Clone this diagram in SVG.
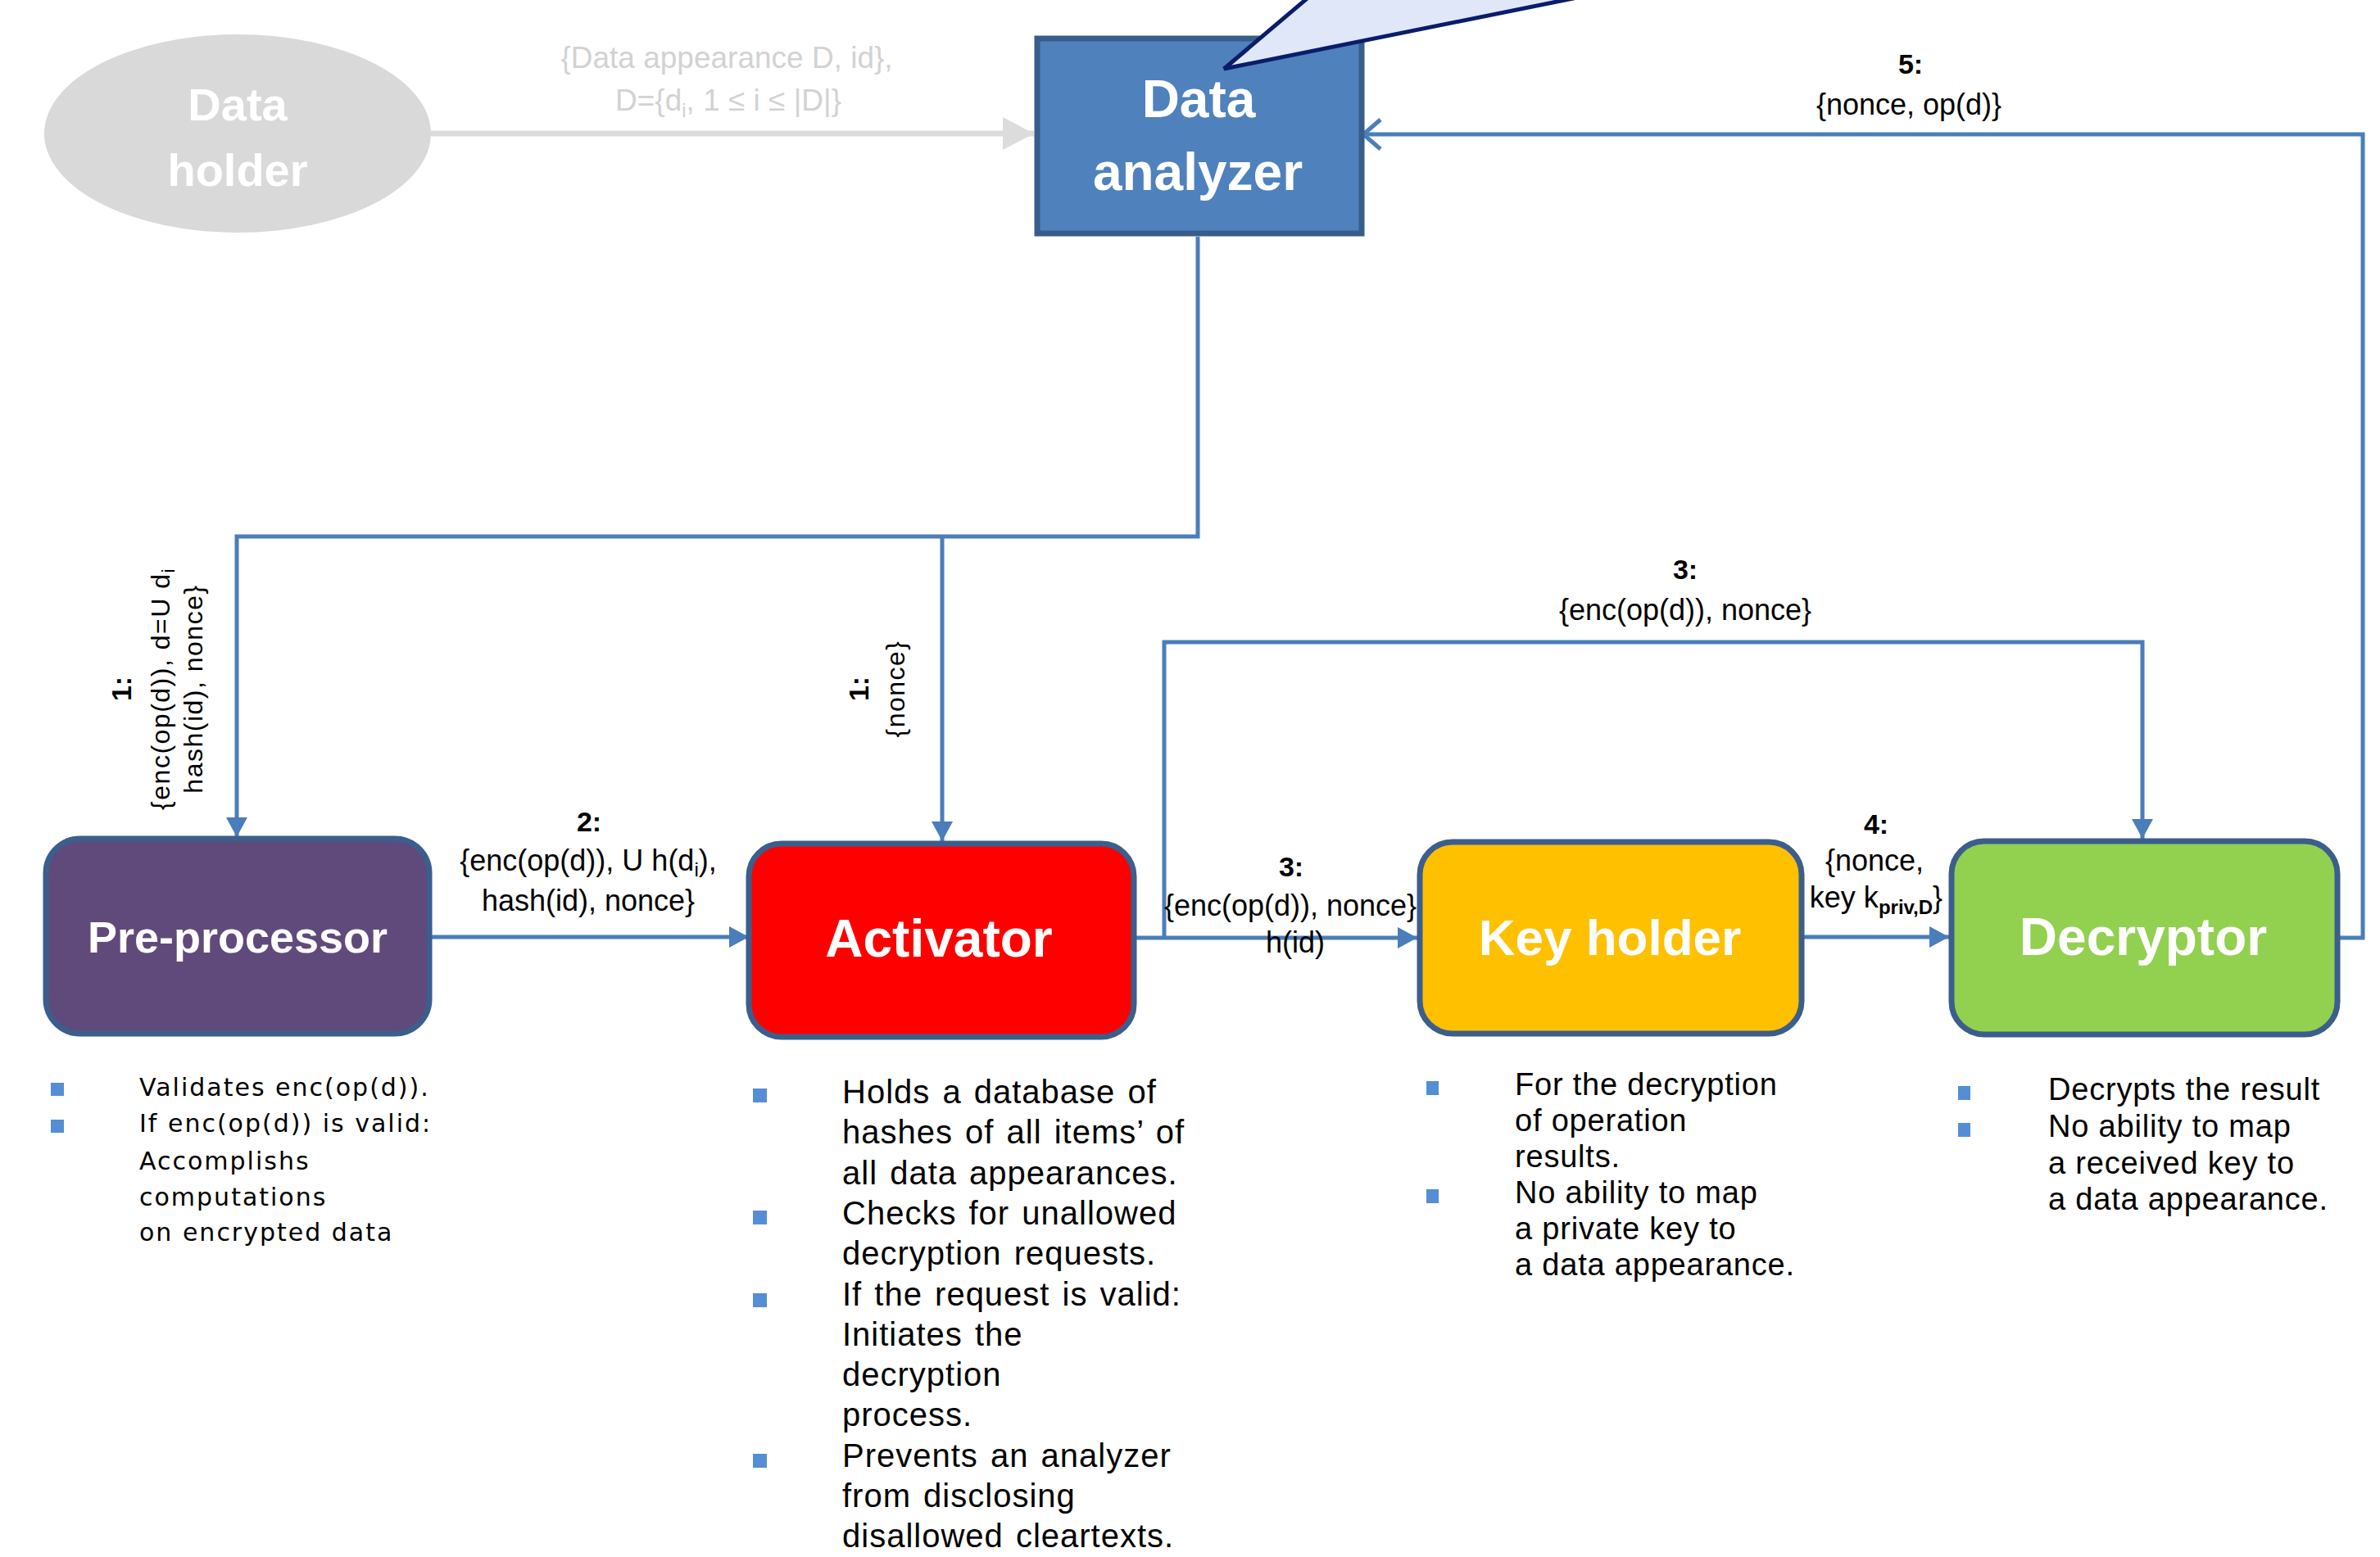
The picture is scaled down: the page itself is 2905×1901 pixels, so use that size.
<svg xmlns="http://www.w3.org/2000/svg" width="2905" height="1901" viewBox="0 0 2905 1901">
<style>
  .nl { font-family: "Liberation Sans", Arial, sans-serif; font-weight: bold; fill: #ffffff; text-anchor: middle; }
  .lbl { font-family: "Liberation Sans", Arial, sans-serif; font-size: 36px; fill: #000000; text-anchor: middle; }
  .lblb { font-family: "Liberation Sans", Arial, sans-serif; font-size: 34px; font-weight: bold; fill: #000000; text-anchor: middle; }
  .rot { font-family: "Liberation Sans", Arial, sans-serif; font-size: 32px; letter-spacing: 1.5px; fill: #000000; text-anchor: middle; }
  .gray { font-family: "Liberation Sans", Arial, sans-serif; font-size: 37px; fill: #d2d2d2; text-anchor: middle; }
  .conn { fill: none; stroke: #4a7ebb; stroke-width: 5; }
  .box { stroke: #3b5e8c; stroke-width: 7; }
  .bullet { fill: #558ed5; }
  .list { font-family: "Liberation Sans", Arial, sans-serif; font-size: 38px; letter-spacing: 0.8px; fill: #000000; }
  .alist { font-family: "Liberation Sans", Arial, sans-serif; font-size: 40px; letter-spacing: 1px; word-spacing: 3px; fill: #000000; }
  .plist { font-family: "DejaVu Sans", sans-serif; font-size: 30px; letter-spacing: 2px; fill: #000000; }
</style>
<defs>
  <marker id="ah" markerUnits="userSpaceOnUse" markerWidth="24" markerHeight="26" refX="24" refY="13" orient="auto">
    <path d="M0,0 L24,13 L0,26 z" fill="#4a7ebb"/>
  </marker>
  <marker id="ahopen" markerUnits="userSpaceOnUse" markerWidth="26" markerHeight="42" refX="23" refY="21" orient="auto">
    <path d="M2,3 L23,21 L2,39" fill="none" stroke="#4a7ebb" stroke-width="5"/>
  </marker>
  <marker id="ahgray" markerUnits="userSpaceOnUse" markerWidth="40" markerHeight="42" refX="38" refY="21" orient="auto">
    <path d="M0,1 L38,21 L0,41 z" fill="#dcdcdc"/>
  </marker>
</defs>
<rect x="0" y="0" width="2905" height="1901" fill="#ffffff"/>

<g id="connectors">
  <path d="M526,163 L1262,163" fill="none" stroke="#dcdcdc" stroke-width="7" marker-end="url(#ahgray)"/>
  <path class="conn" d="M1462,289 L1462,655 L289,655 L289,1022" marker-end="url(#ah)"/>
  <path class="conn" d="M1150,655 L1150,1027" marker-end="url(#ah)"/>
  <path class="conn" d="M524,1144 L914,1144" marker-end="url(#ah)"/>
  <path class="conn" d="M1385,1145 L1730,1145" marker-end="url(#ah)"/>
  <path class="conn" d="M1421,1145 L1421,784 L2615,784 L2615,1024" marker-end="url(#ah)"/>
  <path class="conn" d="M2199,1144 L2379,1144" marker-end="url(#ah)"/>
  <path class="conn" d="M2853,1145 L2884,1145 L2884,164 L1664,164" marker-end="url(#ahopen)"/>
</g>

<g id="connector-labels">
  <text class="gray" x="887" y="83">{Data appearance D, id},</text>
  <text class="gray" x="889" y="135">D={d<tspan dy="8" font-size="24">i</tspan><tspan dy="-8">, 1 ≤ i ≤ |D|}</tspan></text>

  <text class="lblb" x="2332" y="90">5:</text>
  <text class="lbl" x="2330" y="140">{nonce, op(d)}</text>

  <g transform="translate(0,841) rotate(-90)">
    <text class="lblb" x="0" y="160">1:</text>
    <text class="rot" x="0" y="207">{enc(op(d)), d=U d<tspan dy="6" font-size="22">i</tspan></text>
    <text class="rot" x="0" y="247">hash(id), nonce}</text>
  </g>
  <g transform="translate(0,841) rotate(-90)">
    <text class="lblb" x="0" y="1060">1:</text>
    <text class="rot" x="0" y="1104" letter-spacing="2">{nonce}</text>
  </g>

  <text class="lblb" x="719" y="1015">2:</text>
  <text class="lbl" x="718" y="1063">{enc(op(d)), U h(d<tspan dy="7" font-size="24">i</tspan><tspan dy="-7">),</tspan></text>
  <text class="lbl" x="718" y="1112">hash(id), nonce}</text>

  <text class="lblb" x="2057" y="707">3:</text>
  <text class="lbl" x="2057" y="757">{enc(op(d)), nonce}</text>

  <text class="lblb" x="1576" y="1070">3:</text>
  <text class="lbl" x="1575" y="1118" font-size="34">{enc(op(d)), nonce}</text>
  <text class="lbl" x="1581" y="1163" font-size="36">h(id)</text>

  <text class="lblb" x="2290" y="1018">4:</text>
  <text class="lbl" x="2288" y="1063">{nonce,</text>
  <text class="lbl" x="2290" y="1108">key k<tspan dy="8" font-size="24" font-weight="bold">priv,D</tspan><tspan dy="-8">}</tspan></text>
</g>

<g id="data-holder">
  <ellipse cx="290" cy="163" rx="236" ry="121" fill="#d9d9d9"/>
  <text class="nl" x="290" y="147" font-size="56">Data</text>
  <text class="nl" x="290" y="227" font-size="56">holder</text>
</g>

<g id="data-analyzer">
  <rect x="1266" y="47" width="396" height="238" fill="#4f81bd" stroke="#385d8a" stroke-width="7"/>
  <text class="nl" x="1463" y="143" font-size="64">Data</text>
  <text class="nl" x="1462" y="232" font-size="64">analyzer</text>
</g>

<g id="callout">
  <polygon points="1605,-10 1494,84 1960,-10" fill="#e0e7f8" stroke="#0b1c6b" stroke-width="5" stroke-linejoin="miter"/>
</g>

<g id="pre-processor">
  <rect class="box" x="56" y="1024" width="468" height="238" rx="42" fill="#604a7b"/>
  <text class="nl" x="290" y="1163" font-size="54">Pre-processor</text>
</g>

<g id="activator">
  <rect class="box" x="914" y="1030" width="470" height="236" rx="40" fill="#ff0000"/>
  <text class="nl" x="1146" y="1168" font-size="64">Activator</text>
</g>

<g id="key-holder">
  <rect class="box" x="1733" y="1028" width="466" height="234" rx="40" fill="#ffc000"/>
  <text class="nl" x="1965" y="1166" font-size="62">Key holder</text>
</g>

<g id="decryptor">
  <rect class="box" x="2382" y="1027" width="471" height="236" rx="40" fill="#92d050"/>
  <text class="nl" x="2616" y="1166" font-size="64">Decryptor</text>
</g>

<g id="pre-processor-notes">
  <rect class="bullet" x="62" y="1322" width="16" height="16"/>
  <rect class="bullet" x="62" y="1367" width="16" height="16"/>
  <text class="plist" x="170" y="1338">Validates enc(op(d)).</text>
  <text class="plist" x="170" y="1382">If enc(op(d)) is valid:</text>
  <text class="plist" x="170" y="1428">Accomplishs</text>
  <text class="plist" x="170" y="1472">computations</text>
  <text class="plist" x="170" y="1515">on encrypted data</text>
</g>

<g id="activator-notes">
  <rect class="bullet" x="919" y="1329" width="17" height="17"/>
  <rect class="bullet" x="919" y="1478" width="17" height="17"/>
  <rect class="bullet" x="919" y="1579" width="17" height="17"/>
  <rect class="bullet" x="919" y="1775" width="17" height="17"/>
  <text class="alist" x="1028" y="1347">Holds a database of</text>
  <text class="alist" x="1028" y="1396">hashes of all items’ of</text>
  <text class="alist" x="1028" y="1446">all data appearances.</text>
  <text class="alist" x="1028" y="1495">Checks for unallowed</text>
  <text class="alist" x="1028" y="1544">decryption requests.</text>
  <text class="alist" x="1028" y="1594">If the request is valid:</text>
  <text class="alist" x="1028" y="1643">Initiates the</text>
  <text class="alist" x="1028" y="1692">decryption</text>
  <text class="alist" x="1028" y="1741">process.</text>
  <text class="alist" x="1028" y="1791">Prevents an analyzer</text>
  <text class="alist" x="1028" y="1840">from disclosing</text>
  <text class="alist" x="1028" y="1889">disallowed cleartexts.</text>
</g>

<g id="key-holder-notes">
  <rect class="bullet" x="1741" y="1320" width="15" height="17"/>
  <rect class="bullet" x="1741" y="1452" width="15" height="17"/>
  <text class="list" x="1849" y="1337">For the decryption</text>
  <text class="list" x="1849" y="1381">of operation</text>
  <text class="list" x="1849" y="1425">results.</text>
  <text class="list" x="1849" y="1469">No ability to map</text>
  <text class="list" x="1849" y="1513">a private key to</text>
  <text class="list" x="1849" y="1557">a data appearance.</text>
</g>

<g id="decryptor-notes">
  <rect class="bullet" x="2390" y="1326" width="15" height="17"/>
  <rect class="bullet" x="2390" y="1371" width="15" height="17"/>
  <text class="list" x="2500" y="1343">Decrypts the result</text>
  <text class="list" x="2500" y="1388">No ability to map</text>
  <text class="list" x="2500" y="1433">a received key to</text>
  <text class="list" x="2500" y="1477">a data appearance.</text>
</g>
</svg>
